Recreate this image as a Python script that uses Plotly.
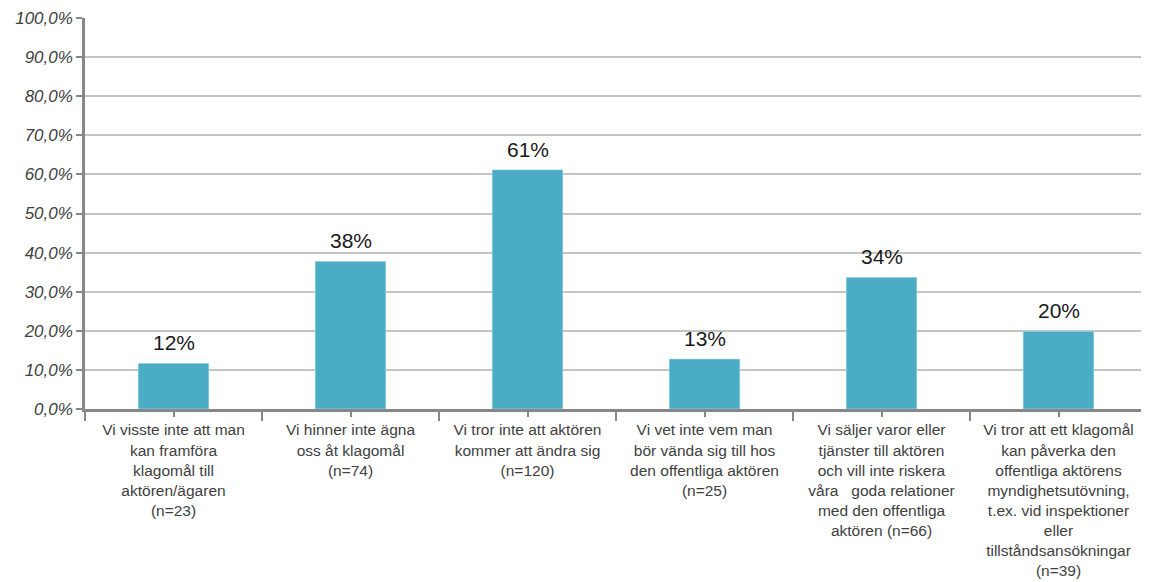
import plotly.graph_objects as go

categories = [
    "Vi visste inte att man<br>kan framföra<br>klagomål till<br>aktören/ägaren<br>(n=23)",
    "Vi hinner inte ägna<br>oss åt klagomål<br>(n=74)",
    "Vi tror inte att aktören<br>kommer att ändra sig<br>(n=120)",
    "Vi vet inte vem man<br>bör vända sig till hos<br>den offentliga aktören<br>(n=25)",
    "Vi säljer varor eller<br>tjänster till aktören<br>och vill inte riskera<br>våra\u00a0\u00a0 goda relationer<br>med den offentliga<br>aktören (n=66)",
    "Vi tror att ett klagomål<br>kan påverka den<br>offentliga aktörens<br>myndighetsutövning,<br>t.ex. vid inspektioner<br>eller<br>tillståndsansökningar<br>(n=39)",
]
values = [11.7, 37.8, 61.2, 12.8, 33.7, 19.9]
value_labels = ["12%", "38%", "61%", "13%", "34%", "20%"]
y_ticks = [0, 10, 20, 30, 40, 50, 60, 70, 80, 90, 100]
y_tick_labels = [f"{v:.1f}%".replace(".", ",") for v in y_ticks]

x_pos = list(range(len(categories)))
FONT = "Liberation Sans, Arial, sans-serif"

fig = go.Figure()
fig.add_trace(go.Bar(
    x=x_pos, y=values, width=0.4,
    marker=dict(color="#4BACC6", line=dict(color="#d9eef3", width=0.5)),
    hoverinfo="skip",
))

for xi, v, t in zip(x_pos, values, value_labels):
    fig.add_annotation(x=xi, y=v, text=t, showarrow=False, yanchor="bottom",
                       yshift=7, font=dict(family=FONT, size=21, color="#1a1a1a"))

# page body has an 8px margin, so the figure is sized to fit the 1149x582 window
fig.update_layout(
    width=1141, height=574,
    margin=dict(l=77, r=2, t=10, b=173),
    paper_bgcolor="white", plot_bgcolor="white",
    showlegend=False,
    xaxis=dict(
        range=[-0.5, len(categories) - 0.5],
        tickmode="array", tickvals=x_pos, ticktext=categories,
        ticks="outside", ticklen=5, tickwidth=2, tickcolor="#878787",
        minor=dict(tickmode="linear", tick0=-0.5, dtick=1, ticks="outside",
                   ticklen=9, tickwidth=2, tickcolor="#878787", showgrid=False),
        showline=True, linecolor="#878787", linewidth=2.5,
        showgrid=False, zeroline=False,
        tickangle=0, automargin=False,
        tickfont=dict(family=FONT, size=15.5, color="#404040"),
    ),
    yaxis=dict(
        range=[0, 100],
        tickmode="array", tickvals=y_ticks, ticktext=y_tick_labels,
        ticks="outside", ticklen=6, tickwidth=2, tickcolor="#878787",
        showline=True, linecolor="#878787", linewidth=2.5,
        showgrid=True, gridcolor="#c4c4c4", gridwidth=1.5,
        zeroline=False, automargin=False,
        tickfont=dict(family=FONT, size=17, color="#404040", style="italic"),
    ),
)

fig.write_html("out.html")
